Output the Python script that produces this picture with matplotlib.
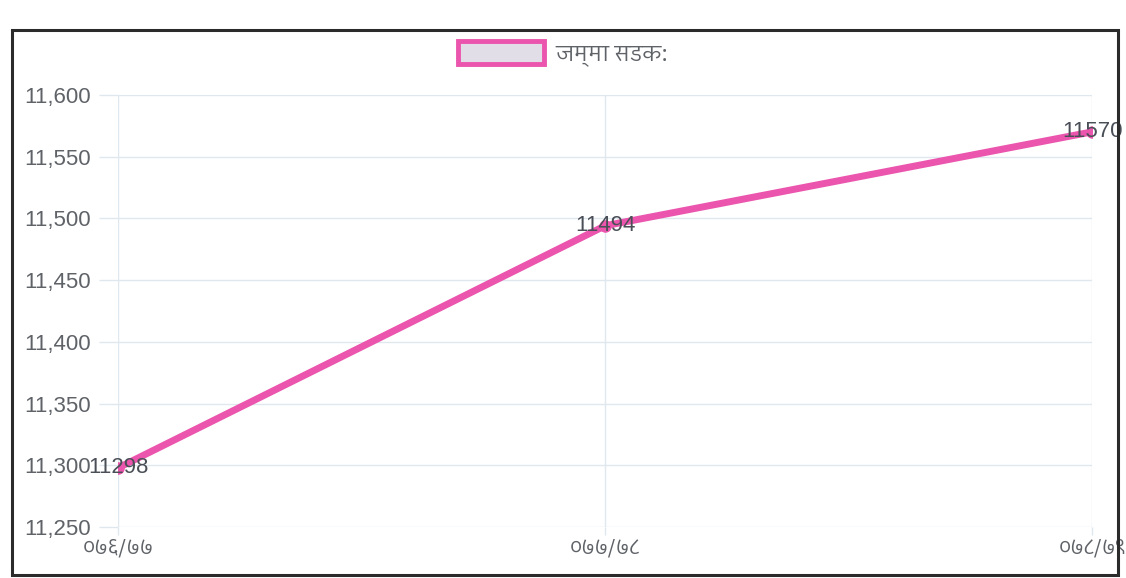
"""Total road length line chart (Devanagari labels)."""

import matplotlib

matplotlib.use("Agg")
import matplotlib.pyplot as plt
from matplotlib import font_manager
from matplotlib.ft2font import FT2Font
from matplotlib.patches import Patch, Rectangle
from matplotlib.ticker import FuncFormatter

# data
fiscal_years = ["०७६/७७", "०७७/७८", "०७८/७९"]
total_road = [11298, 11494, 11570]
legend_label = "जम्मा सडक:"
y_ticks = [11250, 11300, 11350, 11400, 11450, 11500, 11550, 11600]

LINE_COLOR = "#eb55ad"
BOX_FILL = "#e2dee8"
GRID_COLOR = "#dfe7ef"
TEXT_COLOR = "#5f6368"
LABEL_COLOR = "#4a4f57"


def find_devanagari_font():
    found = []
    for entry in font_manager.fontManager.ttflist:
        try:
            cmap = FT2Font(entry.fname).get_charmap()
        except Exception:
            continue
        if 0x0938 in cmap and 0x096D in cmap:
            found.append(entry)
    if not found:
        return None
    # prefer a proper sans Devanagari face, regular weight
    def rank(e):
        name = e.name.lower()
        score = 0
        if "devanagari" in name:
            score -= 4
        if "sans" in name:
            score -= 2
        if "mono" in name or "serif" in name:
            score += 3
        if e.weight not in ("normal", 400, "regular"):
            score += 1
        return score
    found.sort(key=rank)
    return found[0].name


deva = find_devanagari_font()
base = ["Liberation Sans", "DejaVu Sans"]
deva_families = ([deva] if deva else []) + base
plt.rcParams["font.family"] = base

fig = plt.figure(figsize=(11.26, 5.78), dpi=100)
ax = fig.add_axes([0.105, 0.088, 0.865, 0.748])

x = list(range(len(fiscal_years)))
ax.plot(x, total_road, color=LINE_COLOR, linewidth=5, marker="o", markersize=8,
        solid_capstyle="round", zorder=3)
for xi, val in zip(x, total_road):
    ax.text(xi, val, str(val), ha="center", va="center", fontsize=16,
            color=LABEL_COLOR, zorder=4)

ax.set_xlim(0, len(fiscal_years) - 1)
ax.set_ylim(y_ticks[0], y_ticks[-1])
ax.set_xticks(x)
ax.set_xticklabels(fiscal_years, family=deva_families, fontsize=15)
ax.set_yticks(y_ticks)
ax.yaxis.set_major_formatter(FuncFormatter(lambda v, _: f"{int(v):,}"))
ax.tick_params(axis="y", colors=GRID_COLOR, labelcolor=TEXT_COLOR, labelsize=16,
               length=14, width=1, pad=6)
ax.tick_params(axis="x", colors=GRID_COLOR, labelcolor=TEXT_COLOR,
               length=6, width=1, pad=2)
ax.grid(True, color=GRID_COLOR, linewidth=1)
for side in ax.spines.values():
    side.set_visible(False)
ax.set_axisbelow(True)

handle = Patch(facecolor=BOX_FILL, edgecolor=LINE_COLOR, linewidth=3.5)
leg = fig.legend([handle], [legend_label], loc="center", bbox_to_anchor=(0.5, 0.907),
                 frameon=False, handlelength=3.9, handleheight=1.2,
                 handletextpad=0.5, prop={"family": deva_families, "size": 16})
for t in leg.get_texts():
    t.set_color(TEXT_COLOR)

# scanned canvas border
fig.patches.append(Rectangle((0.011, 0.006), 0.982, 0.942, transform=fig.transFigure,
                             fill=False, edgecolor="#2b2b2b", linewidth=2.2))

fig.savefig("out.png", dpi=100)
